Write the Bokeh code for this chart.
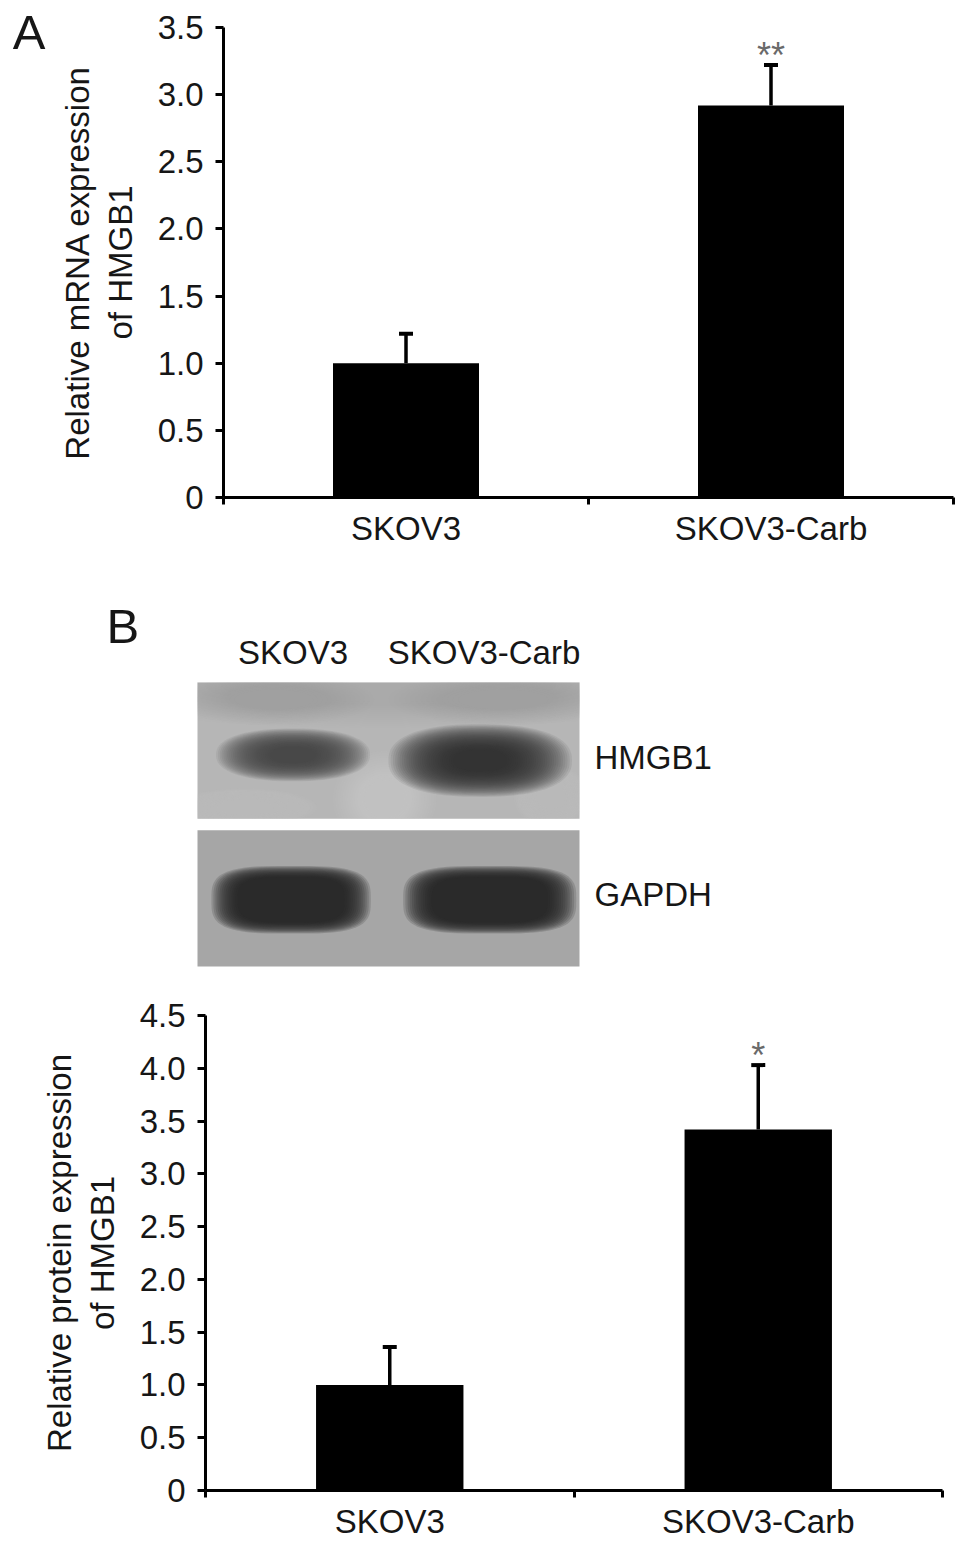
import numpy as np
from bokeh.plotting import figure
from bokeh.models import (Range1d, FixedTicker, ColumnDataSource, LinearAxis,
                          NumeralTickFormatter)
from bokeh.embed import file_html
from bokeh.resources import INLINE
from bokeh.core.properties import value

FONT = "Liberation Sans"
INK = "#161616"

# ---------------- data ----------------
groups = ["SKOV3", "SKOV3-Carb"]

mrna_mean = [1.00, 2.92]
mrna_err = [0.22, 0.30]
mrna_sig = ["", "**"]
mrna_ticks = [0.0, 0.5, 1.0, 1.5, 2.0, 2.5, 3.0, 3.5]

protein_mean = [1.00, 3.42]
protein_err = [0.36, 0.61]
protein_sig = ["", "*"]
protein_ticks = [0.0, 0.5, 1.0, 1.5, 2.0, 2.5, 3.0, 3.5, 4.0, 4.5]

blot_lanes = ["SKOV3", "SKOV3-Carb"]
blot_rows = ["GAPDH", "HMGB1"]          # bottom to top
blot_bg = ["#a6a6a6", "#b6b6b6"]
row_label_y = [0.51, 1.47]
band_lane = [0, 1, 0, 1]
band_row = [1, 1, 0, 0]
band_dx = [0.00, -0.02, -0.01, 0.03]
band_dy = [-0.01, -0.05, -0.03, -0.03]
band_w = [0.52, 0.62, 0.70, 0.76]
band_h = [0.24, 0.33, 0.40, 0.40]
band_ink = ["#484848", "#2a2a2a", "#232323", "#232323"]
band_blur = [1.0, 1.0, 0.35, 0.35]
band_shape = [2.3, 2.4, 3.4, 3.4]

# faint mottling of the HMGB1 membrane: (x, y, w, h, colour, alpha)
haze_x = [1.00, 0.98, 0.25, 1.85, 0.40, 1.60]
haze_y = [1.98, 1.18, 1.12, 1.20, 1.88, 1.88]
haze_w = [2.40, 0.36, 0.50, 0.26, 0.70, 0.80]
haze_h = [0.40, 0.45, 0.18, 0.30, 0.24, 0.24]
haze_c = ["#9c9c9c", "#d0d0d0", "#c9c9c9", "#c6c6c6", "#a2a2a2", "#a2a2a2"]
haze_a = [0.035, 0.08, 0.07, 0.07, 0.03, 0.03]


def superellipse(cx, cy, a, b, n, m=90):
    t = np.linspace(0, 2 * np.pi, m)
    c, s = np.cos(t), np.sin(t)
    x = cx + a * np.sign(c) * np.abs(c) ** (2.0 / n)
    y = cy + b * np.sign(s) * np.abs(s) ** (2.0 / n)
    return x, y


W = 960


def bar_panel(height, left, top, right, bottom, means, errs, sigs, ticks, ylabel,
              panel=None, panel_y=None):
    n = len(groups)
    p = figure(width=W, height=height, x_range=Range1d(0, 2 * n),
               y_range=Range1d(0, ticks[-1]), output_backend="svg",
               toolbar_location=None, min_border_left=left, min_border_top=top,
               min_border_right=right, min_border_bottom=bottom)
    p.outline_line_color = None
    p.grid.visible = False
    p.background_fill_color = "white"
    p.border_fill_color = "white"

    centers = [2 * i + 1 for i in range(n)]
    src = ColumnDataSource(dict(x=centers, top=means,
                                hi=[m + e for m, e in zip(means, errs)], sig=sigs))
    p.vbar(x="x", top="top", bottom=0, width=0.8, fill_color="black",
           line_color=None, source=src)
    p.segment(x0="x", y0="top", x1="x", y1="hi", line_color="black",
              line_width=3.5, source=src)
    p.scatter(x="x", y="hi", marker="dash", size=14, line_color="black",
              line_width=4, source=src)
    p.text(x="x", y="hi", text="sig", text_font=value(FONT), text_font_size="36px",
           text_color="#6a6a6a", text_align="center", text_baseline="alphabetic",
           y_offset=-10, source=src)

    xa = p.xaxis[0]
    ya = p.yaxis[0]
    xa.ticker = FixedTicker(ticks=centers, minor_ticks=list(range(0, 2 * n + 1, 2)))
    xa.major_label_overrides = {c: g for c, g in zip(centers, groups)}
    ya.ticker = FixedTicker(ticks=ticks)
    ya.formatter = NumeralTickFormatter(format="0.0")
    ya.major_label_overrides = {0: "0"}

    for ax in (xa, ya):
        ax.axis_line_width = 3
        ax.axis_line_color = "black"
        ax.major_label_text_font = FONT
        ax.major_label_text_font_size = "33px"
        ax.major_label_text_color = INK

    ya.major_tick_out = 8
    ya.major_tick_in = 0
    ya.major_tick_line_width = 3
    ya.minor_tick_line_color = None
    ya.major_label_standoff = 12
    ya.axis_label = ylabel
    ya.axis_label_text_font = FONT
    ya.axis_label_text_font_size = "33px"
    ya.axis_label_text_font_style = "normal"
    ya.axis_label_text_color = INK
    ya.axis_label_text_line_height = 1.15
    ya.axis_label_standoff = 16

    xa.major_tick_in = 0
    xa.major_tick_out = 0
    xa.major_tick_line_color = None
    xa.minor_tick_in = 0
    xa.minor_tick_out = 7
    xa.minor_tick_line_width = 3
    xa.major_label_standoff = 5

    if panel:
        # panel letter as a bare extra axis further out on the left
        pa = LinearAxis(ticker=FixedTicker(ticks=[panel_y]),
                        major_label_overrides={panel_y: panel})
        pa.axis_line_color = None
        pa.major_tick_line_color = None
        pa.minor_tick_line_color = None
        pa.major_tick_out = 0
        pa.major_tick_in = 0
        pa.major_label_standoff = 11
        pa.major_label_text_font = FONT
        pa.major_label_text_font_size = "49px"
        pa.major_label_text_color = INK
        p.add_layout(pa, "left")
    return p


pA = bar_panel(578, 223, 27, W - 953, 81, mrna_mean, mrna_err, mrna_sig, mrna_ticks,
               "Relative mRNA expression\nof HMGB1", panel="A", panel_y=3.463)

# ---------------- western blot ----------------
LANE_PX, ROW_PX = 191.0, 142.0
BLOT_LEFT, BLOT_BOTTOM = 197.0, 966.0
FIG_TOP, FIG_H = 578.0, 405.0
bp = figure(width=W, height=int(FIG_H),
            x_range=Range1d(-BLOT_LEFT / LANE_PX, (W - BLOT_LEFT) / LANE_PX),
            y_range=Range1d((BLOT_BOTTOM - FIG_TOP - FIG_H) / ROW_PX,
                            (BLOT_BOTTOM - FIG_TOP) / ROW_PX),
            x_axis_location=None, y_axis_location=None, output_backend="svg",
            toolbar_location=None, min_border=0)
bp.outline_line_color = None
bp.grid.visible = False
bp.background_fill_color = "white"
bp.border_fill_color = "white"

nl = len(blot_lanes)
nr = len(blot_rows)
row_y = [i + 0.5 + (0.02 if i == nr - 1 else -0.02) for i in range(nr)]
bp.rect(x=[nl / 2] * nr, y=row_y, width=nl, height=0.96,
        fill_color=blot_bg, line_color=None)

# membrane mottling (kept inside the HMGB1 membrane)
top_lo, top_hi = row_y[-1] - 0.48, row_y[-1] + 0.48
hx, hy, hc, ha = [], [], [], []
for x0, y0, w0, h0, c0, a0 in zip(haze_x, haze_y, haze_w, haze_h, haze_c, haze_a):
    for k in range(14):
        s = 1.5 - 0.07 * k
        xs, ys = superellipse(x0, y0, w0 / 2 * s, h0 / 2 * s, 2.0)
        hx.append(list(np.clip(xs, 0, nl)))
        hy.append(list(np.clip(ys, top_lo, top_hi)))
        hc.append(c0); ha.append(a0)
bp.patches(xs=hx, ys=hy, fill_color=hc, fill_alpha=ha, line_color=None)

# bands (soft edges from stacked translucent layers)
bx, by, bc, ba = [], [], [], []
for li, ri, dx, dy, w, h, ink, blur, shp in zip(band_lane, band_row, band_dx, band_dy,
                                                band_w, band_h, band_ink, band_blur,
                                                band_shape):
    cx = li + 0.5 + dx
    cy = ri + 0.5 + dy
    N = 30 if blur > 0.7 else 14
    smax = 1.0 + 0.55 * blur
    smin = 0.45 if blur > 0.7 else 0.80
    alpha = 1 - 0.07 ** (1.0 / N)
    for k in range(N):
        s = smax - (smax - smin) * k / (N - 1)
        xs, ys = superellipse(cx, cy, w / 2 * s, h / 2 * s, shp)
        bx.append(list(xs)); by.append(list(ys)); bc.append(ink); ba.append(alpha)
bp.patches(xs=bx, ys=by, fill_color=bc, fill_alpha=ba, line_color=None)

lane_src = ColumnDataSource(dict(x=[i + 0.5 for i in range(nl)], y=[nr] * nl,
                                 t=blot_lanes))
bp.text(x="x", y="y", text="t", source=lane_src, text_font=value(FONT),
        text_font_size="33px", text_color=INK, text_align="center",
        text_baseline="alphabetic", y_offset=-30)
row_src = ColumnDataSource(dict(x=[nl] * nr, y=row_label_y, t=blot_rows))
bp.text(x="x", y="y", text="t", source=row_src, text_font=value(FONT),
        text_font_size="33px", text_color=INK, text_align="left",
        text_baseline="middle", x_offset=15)
bp.text(x=[-0.476], y=[2.40], text=["B"], text_font=value(FONT),
        text_font_size="49px", text_color=INK, text_align="left",
        text_baseline="alphabetic")

pC = bar_panel(560, 205, 32, W - 942, 53, protein_mean, protein_err, protein_sig,
               protein_ticks, "Relative protein expression\nof HMGB1")

open("out.html", "w").write(file_html([pA, bp, pC], INLINE))
